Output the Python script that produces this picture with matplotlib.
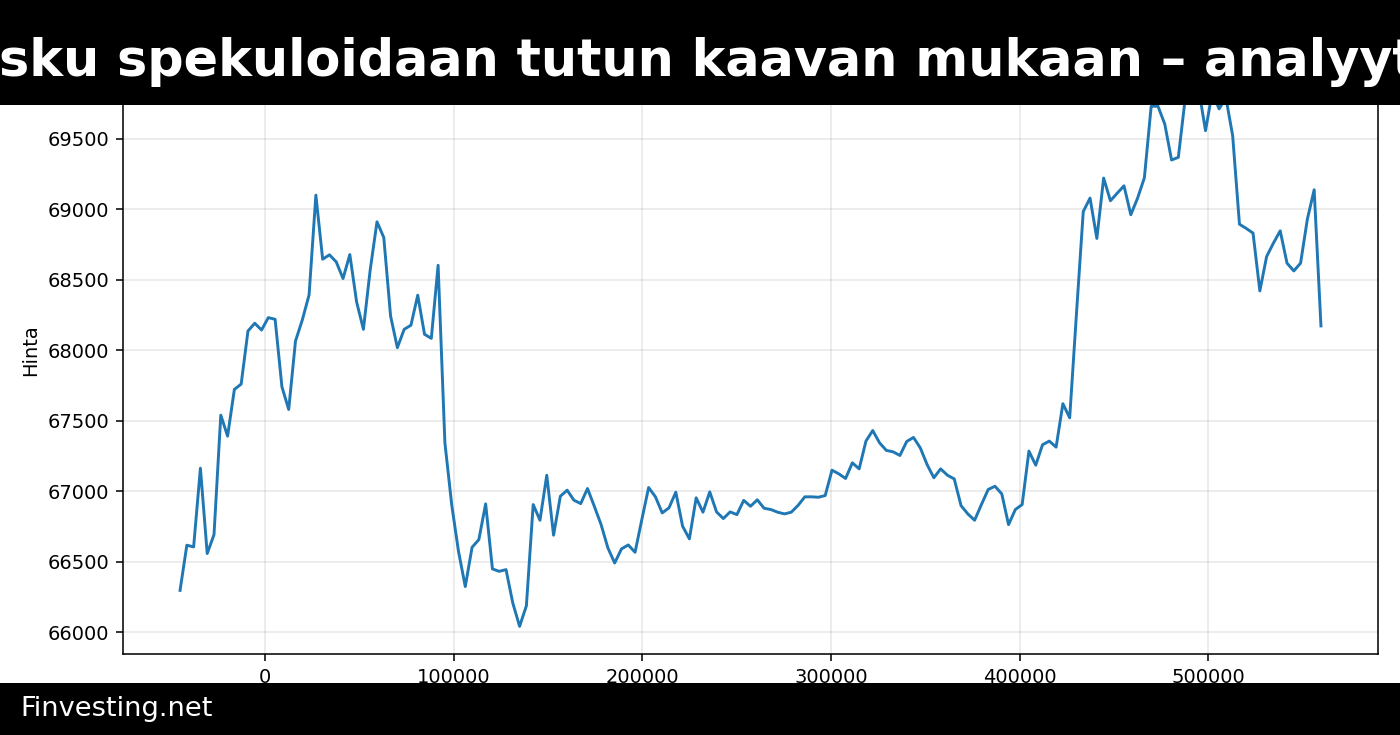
import matplotlib
matplotlib.use("Agg")
import matplotlib.pyplot as plt
import numpy as np
from matplotlib.patches import Rectangle

# hourly points, x in seconds relative to the reference time
x_start = -45000
x_step = 3600

prices = [
    66298, 66618, 66606, 67164, 66559, 66693, 67540, 67391, 67722, 67760,
    68136, 68191, 68143, 68231, 68219, 67741, 67580, 68065, 68214, 68392,
    69099, 68645, 68676, 68626, 68508, 68678, 68342, 68148, 68569, 68910,
    68799, 68243, 68018, 68148, 68177, 68390, 68113, 68084, 68602, 67344,
    66906, 66575, 66325, 66603, 66658, 66911, 66450, 66433, 66445, 66208,
    66043, 66189, 66906, 66795, 67114, 66689, 66965, 67008, 66937, 66913,
    67020, 66894, 66764, 66599, 66492, 66592, 66620, 66568, 66800, 67027,
    66961, 66847, 66883, 66994, 66753, 66663, 66954, 66852, 66996, 66854,
    66807, 66854, 66835, 66936, 66894, 66940, 66880, 66871, 66852, 66840,
    66852, 66900, 66961, 66961, 66958, 66970, 67150, 67124, 67091, 67202,
    67159, 67356, 67431, 67344, 67290, 67280, 67254, 67353, 67382, 67308,
    67190, 67096, 67159, 67114, 67088, 66899, 66840, 66795, 66906, 67013,
    67036, 66982, 66764, 66871, 66906, 67285, 67185, 67330, 67356, 67313,
    67621, 67521, 68260, 68983, 69078, 68792, 69220, 69059, 69113, 69165,
    68960, 69078, 69222, 69729, 69729, 69603, 69348, 69367, 69780, 69960,
    69850, 69556, 69830, 69710, 69790, 69520, 68893, 68863, 68830, 68420,
    68664, 68759, 68846, 68617, 68562, 68617, 68929, 69137, 68172,
]

title = "Bitcoinin lasku spekuloidaan tutun kaavan mukaan \u2013 analyytikko arvioi"
source = "Finvesting.net"

x = x_start + x_step * np.arange(len(prices))

fig = plt.figure(figsize=(10, 5.25), dpi=140)
ax = fig.add_axes([123 / 1400, 81 / 735, 1255 / 1400, 608 / 735])
ax.plot(x, prices, color="tab:blue", linewidth=1.5)
ax.set_ylabel("Hinta")
ax.grid(True, alpha=0.3)

# header and footer bars drawn over the plot
fig.add_artist(Rectangle((0, 1 - 105 / 735), 1, 105 / 735, transform=fig.transFigure,
                         facecolor="black", edgecolor="none", zorder=5))
fig.add_artist(Rectangle((0, 0), 1, 52 / 735, transform=fig.transFigure,
                         facecolor="black", edgecolor="none", zorder=5))
fig.text(696 / 1400, 1 - 62 / 735, title, color="white", fontsize=26.2, fontweight="bold",
         ha="center", va="center", zorder=6)
fig.text(20 / 1400, 26 / 735, source, color="white", fontsize=14,
         ha="left", va="center", zorder=6)

fig.savefig("out.png", dpi=140)
